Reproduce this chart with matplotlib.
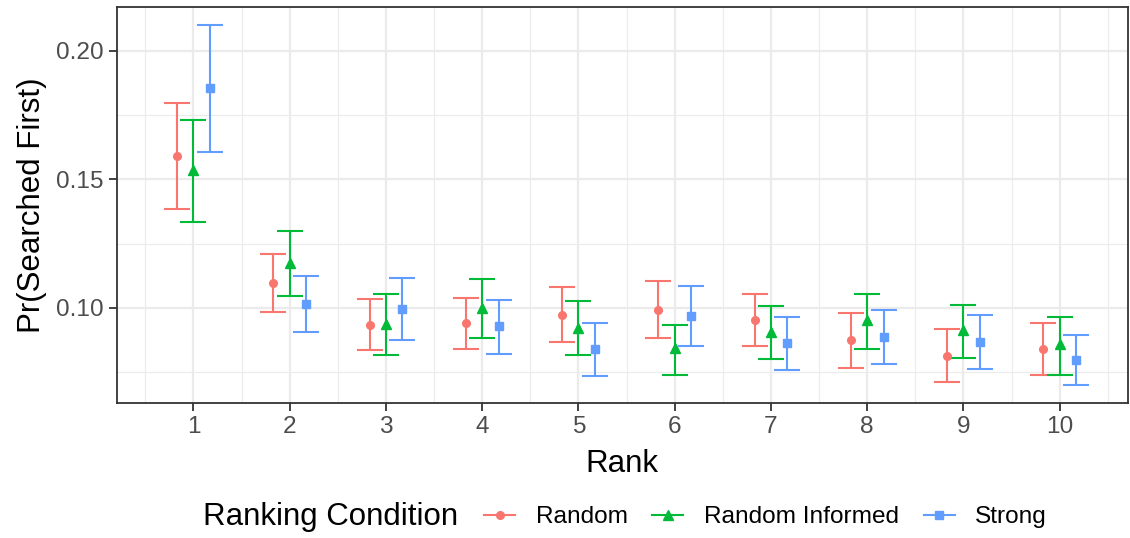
import numpy as np
import matplotlib.pyplot as plt
from matplotlib.lines import Line2D

plt.rcParams['font.family'] = ['Liberation Sans', 'DejaVu Sans']

# data
ranks = np.arange(1, 11)
conditions = ['Random', 'Random Informed', 'Strong']

random_mean = [0.1591, 0.1098, 0.0934, 0.0940, 0.0973, 0.0992, 0.0953, 0.0874, 0.0814, 0.0842]
random_low = [0.1385, 0.0986, 0.0835, 0.0842, 0.0868, 0.0882, 0.0852, 0.0768, 0.0711, 0.0739]
random_high = [0.1799, 0.1211, 0.1035, 0.1040, 0.1081, 0.1104, 0.1054, 0.0982, 0.0917, 0.0943]

informed_mean = [0.1537, 0.1175, 0.0937, 0.1001, 0.0923, 0.0843, 0.0908, 0.0953, 0.0914, 0.0859]
informed_low = [0.1335, 0.1046, 0.0816, 0.0883, 0.0818, 0.0739, 0.0800, 0.0840, 0.0807, 0.0740]
informed_high = [0.1733, 0.1300, 0.1054, 0.1113, 0.1027, 0.0934, 0.1008, 0.1056, 0.1013, 0.0966]

strong_mean = [0.1855, 0.1014, 0.0995, 0.0929, 0.0839, 0.0968, 0.0863, 0.0886, 0.0867, 0.0796]
strong_low = [0.1606, 0.0905, 0.0874, 0.0822, 0.0735, 0.0852, 0.0758, 0.0783, 0.0763, 0.0699]
strong_high = [0.2101, 0.1123, 0.1116, 0.1032, 0.0943, 0.1084, 0.0964, 0.0990, 0.0972, 0.0896]

colors = ['#F8766D', '#00BA38', '#619CFF']
markers = ['o', '^', 's']
msizes = [5.5, 7, 5.5]
offsets = [-0.17, 0.0, 0.17]

series = [
    (random_mean, random_low, random_high),
    (informed_mean, informed_low, informed_high),
    (strong_mean, strong_low, strong_high),
]

fig = plt.figure(figsize=(11.3, 5.38), dpi=100)
ax = fig.add_axes([0.1031, 0.2509, 0.8951, 0.7361])

for (mean, low, high), col, mk, ms, off in zip(series, colors, markers, msizes, offsets):
    mean = np.array(mean)
    yerr = [mean - np.array(low), np.array(high) - mean]
    ax.errorbar(ranks + off, mean, yerr=yerr, fmt=mk, color=col, ms=ms,
                mec=col, ecolor=col, elinewidth=1.5, capsize=9.4, capthick=1.5,
                zorder=3)

ax.set_xlim(0.2, 10.71)
ax.set_ylim(0.063, 0.2171)
ax.set_xticks(ranks)
ax.set_xticks(np.arange(0.5, 11, 1), minor=True)
ax.set_yticks([0.10, 0.15, 0.20])
ax.set_yticks([0.075, 0.125, 0.175], minor=True)
ax.set_yticklabels(['0.10', '0.15', '0.20'])

ax.grid(which='major', color='#EBEBEB', linewidth=1.6, zorder=0)
ax.grid(which='minor', color='#EBEBEB', linewidth=0.8, zorder=0)
ax.set_axisbelow(True)

for sp in ax.spines.values():
    sp.set_color('#333333')
    sp.set_linewidth(1.3)

ax.tick_params(which='major', length=5.5, width=1.3, color='#333333',
               labelsize=17.6, labelcolor='#4D4D4D', pad=4)
ax.tick_params(which='minor', length=0)

ax.set_xlabel('Rank', fontsize=22.5, labelpad=8)
ax.set_ylabel('Pr(Searched First)', fontsize=22.5, labelpad=6)

# legend at bottom with title on the left
fig.text(203 / 1130, 1 - 517 / 538, 'Ranking Condition', fontsize=22.5,
         ha='left', va='center')
handles = [Line2D([0], [0], color=c, marker=m, ms=s, lw=1.5, mec=c)
           for c, m, s in zip(colors, markers, msizes)]
fig.legend(handles, conditions, loc='center left',
           bbox_to_anchor=(484 / 1130, 1 - 517 / 538), ncol=3, frameon=False,
           fontsize=17.6, handlelength=1.27, handletextpad=0.85,
           columnspacing=1.0, borderpad=0, borderaxespad=0)

fig.savefig('out.png', dpi=100)
